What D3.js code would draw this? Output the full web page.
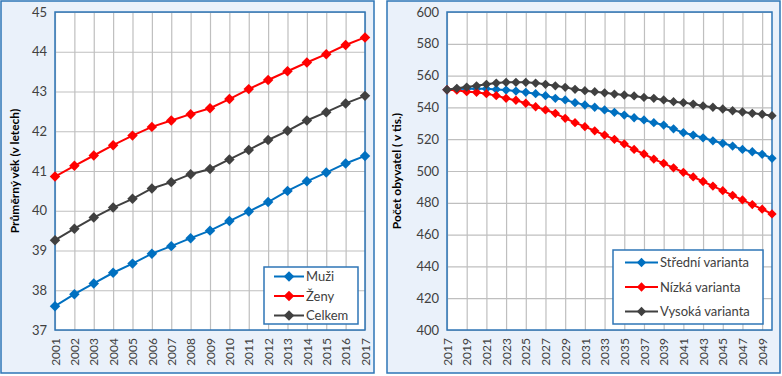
<!DOCTYPE html>
<html>
<head>
<meta charset="utf-8">
<script src="https://cdn.jsdelivr.net/npm/d3@7"></script>
<style>
  body { margin: 0; background: #fff; }
  svg { display: block; font-family: Lato, "Open Sans", sans-serif; }
</style>
</head>
<body>
<div id="chart"></div>
<script>
// left chart: average age
const years1 = d3.range(2001, 2018);
const muzi = [37.60, 37.90, 38.17, 38.44, 38.67, 38.92, 39.11, 39.31, 39.50, 39.74, 39.98, 40.22, 40.50, 40.74, 40.96, 41.19, 41.38];
const zeny = [40.86, 41.13, 41.39, 41.65, 41.89, 42.11, 42.27, 42.43, 42.58, 42.81, 43.06, 43.29, 43.51, 43.73, 43.94, 44.17, 44.36];
const celkem = [39.26, 39.55, 39.83, 40.08, 40.30, 40.56, 40.72, 40.92, 41.05, 41.29, 41.53, 41.78, 42.01, 42.27, 42.48, 42.70, 42.89];
const ticks1 = [37, 38, 39, 40, 41, 42, 43, 44, 45];

// right chart: population projection
const years2 = d3.range(2017, 2051);
const stredni = [551.1, 551.5, 551.8, 551.8, 551.7, 551.3, 550.9, 550.3, 549.5, 548.6, 547.4, 545.7,
  544.7, 543.0, 541.5, 540.1, 538.4, 536.9, 535.2, 533.5, 532.1, 530.4, 528.9, 526.5,
  524.1, 522.6, 520.9, 519.0, 517.4, 515.7, 513.6, 512.1, 510.5, 508.0];
const nizka = [551.1, 550.8, 549.9, 549.5, 548.6, 547.4, 545.7, 544.5, 542.6, 540.4, 538.4, 536.3,
  533.1, 530.4, 527.9, 525.3, 522.6, 519.9, 517.0, 513.6, 510.7, 507.5, 504.8, 502.0,
  499.2, 496.3, 493.4, 490.5, 487.6, 484.7, 481.8, 478.9, 476.0, 473.0];
const vysoka = [551.1, 552.0, 552.8, 553.6, 554.5, 555.3, 555.8, 555.8, 555.8, 555.3, 554.5, 553.6,
  552.6, 551.4, 550.5, 549.9, 549.2, 548.4, 547.8, 547.2, 546.3, 545.7, 544.7, 543.6,
  543.0, 542.1, 540.9, 540.1, 539.0, 537.9, 537.1, 536.3, 535.7, 534.8];
const ticks2 = [400, 420, 440, 460, 480, 500, 520, 540, 560, 580, 600];
const xTicks2 = d3.range(2017, 2050, 2);

const BLUE = "#0070c0", RED = "#ff0000", DARK = "#404040";
const FRAME = "#2e75b6", PANEL = "#eaf1fa", GRID = "#bfbfbf", TEXT = "#404040";

const svg = d3.select("#chart").append("svg")
  .attr("width", 782).attr("height", 376);

function panel(opt) {
  const g = svg.append("g");
  g.append("rect")
    .attr("x", opt.box[0]).attr("y", opt.box[1])
    .attr("width", opt.box[2]).attr("height", opt.box[3])
    .attr("fill", PANEL).attr("stroke", FRAME).attr("stroke-width", 1.5);

  const [L, T, R, B] = opt.plot;
  const x = d3.scaleLinear().domain(opt.xDomain).range([L, R]);
  const y = d3.scaleLinear().domain(opt.yDomain).range([B, T]);

  g.append("rect").attr("x", L).attr("y", T).attr("width", R - L).attr("height", B - T)
    .attr("fill", "#fff");

  // gridlines
  g.append("g").attr("transform", `translate(0,${B})`)
    .call(d3.axisBottom(x).tickValues(opt.xTicks).tickSize(-(B - T)).tickFormat(""))
    .call(s => s.select(".domain").remove())
    .call(s => s.selectAll("line").attr("stroke", GRID).attr("stroke-width", 1.2));
  g.append("g").attr("transform", `translate(${L},0)`)
    .call(d3.axisLeft(y).tickValues(opt.yTicks).tickSize(-(R - L)).tickFormat(""))
    .call(s => s.select(".domain").remove())
    .call(s => s.selectAll("line").attr("stroke", GRID).attr("stroke-width", 1.2));

  // tick labels
  g.append("g").attr("transform", `translate(${L},0)`)
    .call(d3.axisLeft(y).tickValues(opt.yTicks).tickSize(0).tickPadding(8).tickFormat(d3.format("d")))
    .call(s => s.select(".domain").remove())
    .call(s => s.selectAll("text").attr("fill", TEXT).style("font-size", "13px").style("font-family", "Lato, sans-serif"));
  g.append("g").attr("transform", `translate(0,${B})`)
    .call(d3.axisBottom(x).tickValues(opt.xLabels).tickSize(0).tickFormat(d3.format("d")))
    .call(s => s.select(".domain").remove())
    .call(s => s.selectAll("text")
      .attr("fill", TEXT).style("font-size", "12px").style("font-family", "Lato, sans-serif")
      .attr("transform", "rotate(-90)").attr("text-anchor", "end")
      .attr("x", -8).attr("y", 0).attr("dy", "0.35em"));

  // plot border
  g.append("rect").attr("x", L).attr("y", T).attr("width", R - L).attr("height", B - T)
    .attr("fill", "none").attr("stroke", FRAME).attr("stroke-width", 1.5);

  // axis title
  g.append("text")
    .attr("transform", `translate(${opt.titleX},${(T + B) / 2}) rotate(-90)`)
    .attr("text-anchor", "middle").attr("dy", "0.35em")
    .attr("fill", "#000").style("font-size", "12px").style("font-weight", "bold")
    .style("font-family", "Lato, sans-serif")
    .text(opt.title);

  // series
  const line = d3.line().x(d => x(d[0])).y(d => y(d[1]));
  opt.series.forEach(s => {
    const pts = opt.years.map((yr, i) => [yr, s.values[i]]);
    g.append("path").datum(pts).attr("d", line)
      .attr("fill", "none").attr("stroke", s.color).attr("stroke-width", 2);
    g.append("g").selectAll("path").data(pts).join("path")
      .attr("d", d3.symbol(d3.symbolDiamond2, opt.marker))
      .attr("transform", d => `translate(${x(d[0])},${y(d[1])})`)
      .attr("fill", s.color);
  });

  // legend
  const [lx, ly, lw, lh] = opt.legend;
  const lg = g.append("g");
  lg.append("rect").attr("x", lx).attr("y", ly).attr("width", lw).attr("height", lh)
    .attr("fill", "#fff").attr("stroke", FRAME).attr("stroke-width", 1.5);
  opt.series.forEach((s, i) => {
    const cy = ly + opt.legendRow0 + i * opt.legendStep;
    lg.append("line").attr("x1", lx + opt.legendLine[0]).attr("x2", lx + opt.legendLine[1])
      .attr("y1", cy).attr("y2", cy).attr("stroke", s.color).attr("stroke-width", 2);
    lg.append("path").attr("d", d3.symbol(d3.symbolDiamond2, opt.marker))
      .attr("transform", `translate(${lx + (opt.legendLine[0] + opt.legendLine[1]) / 2},${cy})`)
      .attr("fill", s.color);
    lg.append("text").attr("x", lx + opt.legendLine[1] + 2).attr("y", cy).attr("dy", "0.35em")
      .attr("fill", TEXT).style("font-size", "13px").style("font-family", "Lato, sans-serif")
      .text(s.name);
  });
}

panel({
  box: [1, 1, 373, 372],
  plot: [55, 12, 365, 330],
  xDomain: [2001, 2017], yDomain: [37, 45],
  xTicks: years1, xLabels: years1, yTicks: ticks1,
  years: years1,
  title: "Průměrný věk (v letech)", titleX: 15,
  marker: 70,
  series: [
    { name: "Muži", values: muzi, color: BLUE },
    { name: "Ženy", values: zeny, color: RED },
    { name: "Celkem", values: celkem, color: DARK }
  ],
  legend: [264, 267, 94, 57], legendRow0: 9.5, legendStep: 19.5, legendLine: [10, 40]
});

panel({
  box: [387, 1, 393, 372],
  plot: [447, 12, 772, 330],
  xDomain: [2017, 2050], yDomain: [400, 600],
  xTicks: xTicks2, xLabels: xTicks2, yTicks: ticks2,
  years: years2,
  title: "Počet obyvatel ( v tis.)", titleX: 397,
  marker: 55,
  series: [
    { name: "Střední varianta", values: stredni, color: BLUE },
    { name: "Nízká varianta", values: nizka, color: RED },
    { name: "Vysoká varianta", values: vysoka, color: DARK }
  ],
  legend: [613, 250, 150, 74], legendRow0: 12.5, legendStep: 24.5, legendLine: [12, 45]
});
</script>
</body>
</html>
